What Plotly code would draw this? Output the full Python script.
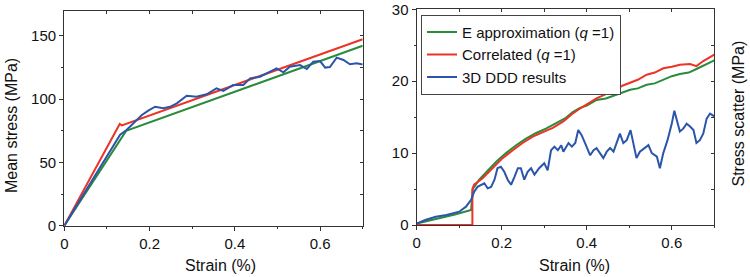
import plotly.graph_objects as go

# ---------------- Left panel: mean stress ----------------
left_e_strain = [0.0, 0.145, 0.70]
left_e_stress = [0.0, 75.0, 142.3]

left_corr_strain = [0.0, 0.130, 0.135, 0.70]
left_corr_stress = [0.0, 80.4, 79.3, 147.4]

left_ddd_strain = [0.0, 0.03, 0.065, 0.10, 0.131, 0.146, 0.162, 0.182, 0.197, 0.213, 0.232,
                   0.248, 0.264, 0.287, 0.31, 0.334, 0.357, 0.373, 0.396, 0.42, 0.436,
                   0.459, 0.483, 0.498, 0.514, 0.529, 0.553, 0.569, 0.584, 0.60, 0.612,
                   0.623, 0.639, 0.655, 0.67, 0.686, 0.70]
left_ddd_stress = [0.0, 16.5, 35.0, 54.0, 72.0, 75.7, 81.0, 87.5, 91.0, 94.1, 92.8,
                   94.0, 96.8, 102.8, 102.0, 103.9, 108.6, 106.5, 111.2, 111.2, 116.5,
                   117.8, 121.8, 124.4, 121.3, 125.7, 127.0, 123.9, 129.7, 130.2, 125.0,
                   125.5, 132.9, 131.0, 127.6, 128.4, 127.5]

# ---------------- Right panel: stress scatter ----------------
right_e_strain = [0.0, 0.03, 0.06, 0.09, 0.128, 0.132, 0.147, 0.163, 0.187, 0.21, 0.234,
                  0.257, 0.281, 0.304, 0.328, 0.351, 0.367, 0.384, 0.40, 0.423, 0.445,
                  0.47, 0.485, 0.502, 0.52, 0.541, 0.56, 0.58, 0.60, 0.619, 0.64,
                  0.658, 0.68, 0.70]
right_e_scatter = [0.2, 0.6, 1.0, 1.45, 2.1, 5.0, 6.3, 7.3, 8.8, 10.0, 11.1,
                   12.0, 12.8, 13.4, 14.2, 14.9, 15.7, 16.3, 16.6, 17.4, 17.6,
                   18.1, 18.4, 18.8, 19.0, 19.5, 19.7, 20.2, 20.7, 21.0, 21.2,
                   21.7, 22.3, 22.9]

right_corr_strain = [0.0, 0.131, 0.131, 0.135, 0.155, 0.179, 0.202, 0.226, 0.249, 0.273,
                     0.296, 0.32, 0.345, 0.365, 0.384, 0.405, 0.423, 0.445, 0.462, 0.485,
                     0.502, 0.52, 0.541, 0.56, 0.58, 0.60, 0.619, 0.643, 0.658, 0.674,
                     0.70]
right_corr_scatter = [0.0, 0.0, 5.0, 5.6, 6.5, 7.9, 9.3, 10.4, 11.4, 12.3,
                      12.9, 13.5, 14.4, 15.4, 16.2, 17.0, 17.6, 18.2, 18.6, 19.4,
                      19.8, 20.2, 20.9, 21.2, 21.8, 22.0, 22.3, 22.4, 22.1, 22.8,
                      23.7]

right_ddd_strain = [0.0, 0.02, 0.045, 0.07, 0.1, 0.116, 0.128, 0.135, 0.143, 0.151, 0.159,
                    0.167, 0.175, 0.183, 0.19, 0.198, 0.206, 0.214, 0.222, 0.23, 0.238,
                    0.245, 0.253, 0.261, 0.269, 0.277, 0.288, 0.30, 0.308, 0.316, 0.324,
                    0.332, 0.34, 0.345, 0.357, 0.365, 0.373, 0.38, 0.388, 0.396, 0.408,
                    0.416, 0.423, 0.431, 0.439, 0.447, 0.455, 0.463, 0.47, 0.478, 0.486,
                    0.494, 0.503, 0.51, 0.517, 0.525, 0.537, 0.545, 0.553, 0.565, 0.572,
                    0.58, 0.59, 0.60, 0.606, 0.611, 0.619, 0.627, 0.635, 0.643, 0.651,
                    0.658, 0.666, 0.674, 0.682, 0.69, 0.70]
right_ddd_scatter = [0.2, 0.7, 1.15, 1.4, 1.85, 2.55, 3.5, 4.6, 5.3, 5.6, 5.8,
                     5.1, 5.3, 6.3, 7.9, 8.1, 7.4, 6.3, 5.6, 6.7, 7.9,
                     7.9, 6.3, 7.4, 7.9, 7.0, 7.9, 8.6, 7.6, 10.4, 10.9,
                     10.4, 11.1, 10.2, 11.4, 10.9, 11.4, 13.2, 12.5, 11.4, 9.7,
                     10.4, 10.7, 10.0, 9.3, 10.2, 10.7, 10.2, 11.4, 12.7, 11.4,
                     11.8, 13.2, 11.4, 9.3, 10.2, 10.7, 11.1, 10.0, 9.5, 7.9,
                     10.0, 11.8, 14.1, 15.9, 14.8, 13.0, 13.4, 14.1, 13.7, 13.2,
                     11.4, 11.8, 12.7, 14.8, 15.5, 15.1]

x_ticks = [0, 0.2, 0.4, 0.6]
x_tick_labels = ["0", "0.2", "0.4", "0.6"]
left_y_ticks = [0, 50, 100, 150]
right_y_ticks = [0, 10, 20, 30]

GREEN = "#2a8b3c"
RED = "#ec3326"
BLUE = "#2b55aa"
AX = "#333333"
FONT = "Liberation Sans, Arial, sans-serif"

fig = go.Figure()

lw = 2
fig.add_trace(go.Scatter(x=left_e_strain, y=left_e_stress, mode="lines",
                         line=dict(color=GREEN, width=lw), showlegend=False,
                         xaxis="x", yaxis="y"))
fig.add_trace(go.Scatter(x=left_corr_strain, y=left_corr_stress, mode="lines",
                         line=dict(color=RED, width=lw), showlegend=False,
                         xaxis="x", yaxis="y"))
fig.add_trace(go.Scatter(x=left_ddd_strain, y=left_ddd_stress, mode="lines",
                         line=dict(color=BLUE, width=lw), showlegend=False,
                         xaxis="x", yaxis="y"))

fig.add_trace(go.Scatter(x=right_e_strain, y=right_e_scatter, mode="lines",
                         line=dict(color=GREEN, width=lw),
                         name="E approximation (<i>q</i> =1)",
                         xaxis="x2", yaxis="y2"))
fig.add_trace(go.Scatter(x=right_corr_strain, y=right_corr_scatter, mode="lines",
                         line=dict(color=RED, width=lw),
                         name="Correlated (<i>q</i> =1)",
                         xaxis="x2", yaxis="y2"))
fig.add_trace(go.Scatter(x=right_ddd_strain, y=right_ddd_scatter, mode="lines",
                         line=dict(color=BLUE, width=lw),
                         name="3D DDD results",
                         xaxis="x2", yaxis="y2"))

# empty traces so that the mirrored (frame) axes are drawn
fig.add_trace(go.Scatter(x=[], y=[], xaxis="x3", yaxis="y3", showlegend=False,
                         hoverinfo="skip"))
fig.add_trace(go.Scatter(x=[], y=[], xaxis="x4", yaxis="y4", showlegend=False,
                         hoverinfo="skip"))

W, H = 750, 277
L_dom_x = [64.3 / W, 362.7 / W]
L_dom_y = [1 - 225.7 / H, 1 - 10.7 / H]
R_dom_x = [416.7 / W, 714.3 / W]
R_dom_y = [1 - 225.0 / H, 1 - 9.3 / H]

tickfont = dict(family=FONT, size=15, color="#111111")


def main_x(domain, anchor):
    return dict(domain=domain, anchor=anchor, range=[0, 0.7], tickvals=x_ticks,
                ticktext=x_tick_labels, ticks="outside", ticklen=4, tickwidth=1.2,
                tickcolor=AX, showline=True, linecolor=AX, linewidth=1.3,
                showgrid=False, zeroline=False, tickfont=tickfont, automargin=False,
                minor=dict(dtick=0.1, tick0=0, ticks="outside", ticklen=2, tickcolor=AX,
                           showgrid=False))


def main_y(domain, anchor, rng, vals, minor):
    return dict(domain=domain, anchor=anchor, range=rng, tickvals=vals,
                ticks="outside", ticklen=4, tickwidth=1.2, tickcolor=AX,
                showline=True, linecolor=AX, linewidth=1.3, showgrid=False,
                zeroline=False, tickfont=tickfont, automargin=False,
                minor=dict(dtick=minor, tick0=0, ticks="outside", ticklen=2,
                           tickcolor=AX, showgrid=False))


def mirror_x(over, anchor, domain):
    return dict(overlaying=over, anchor=anchor, domain=domain, side="top",
                range=[0, 0.7], dtick=0.1, tick0=0, ticks="inside", ticklen=3,
                tickcolor=AX, showline=True, linecolor=AX, linewidth=1.3,
                showticklabels=False, showgrid=False, zeroline=False, automargin=False)


def mirror_y(over, anchor, domain, rng, dt):
    return dict(overlaying=over, anchor=anchor, domain=domain, side="right",
                range=rng, dtick=dt, tick0=0, ticks="inside", ticklen=3,
                tickcolor=AX, showline=True, linecolor=AX, linewidth=1.3,
                showticklabels=False, showgrid=False, zeroline=False, automargin=False)


fig.update_layout(
    template="none",
    width=W, height=H,
    margin=dict(l=0, r=0, t=0, b=0, autoexpand=False),
    paper_bgcolor="white", plot_bgcolor="white",
    font=dict(family=FONT, size=15, color="#111111"),
    xaxis=main_x(L_dom_x, "y"),
    yaxis=main_y(L_dom_y, "x", [0, 170], left_y_ticks, 25),
    xaxis2=main_x(R_dom_x, "y2"),
    yaxis2=main_y(R_dom_y, "x2", [0, 30], right_y_ticks, 5),
    xaxis3=mirror_x("x", "y3", L_dom_x),
    yaxis3=mirror_y("y", "x3", L_dom_y, [0, 170], 25),
    xaxis4=mirror_x("x2", "y4", R_dom_x),
    yaxis4=mirror_y("y2", "x4", R_dom_y, [0, 30], 5),
    showlegend=True,
    legend=dict(x=421 / W, y=1 - 14.7 / H, xanchor="left", yanchor="top",
                bgcolor="white", bordercolor="#444444", borderwidth=1,
                font=dict(family=FONT, size=15, color="#111111"),
                tracegroupgap=0),
)

title_font = dict(family=FONT, size=16, color="#111111")
fig.add_annotation(text="Mean stress (MPa)", x=11 / W, y=1 - 126 / H, xref="paper",
                   yref="paper", showarrow=False, textangle=-90, font=title_font,
                   xanchor="center", yanchor="middle")
fig.add_annotation(text="Strain (%)", x=220 / W, y=1 - 265 / H, xref="paper",
                   yref="paper", showarrow=False, font=title_font,
                   xanchor="center", yanchor="middle")
fig.add_annotation(text="Strain (%)", x=574 / W, y=1 - 265 / H, xref="paper",
                   yref="paper", showarrow=False, font=title_font,
                   xanchor="center", yanchor="middle")
fig.add_annotation(text="Stress scatter (MPa)", x=738 / W, y=1 - 113.5 / H, xref="paper",
                   yref="paper", showarrow=False, textangle=-90, font=title_font,
                   xanchor="center", yanchor="middle")

fig.write_html("out.html", config={"displayModeBar": False},
               post_script="document.body.style.margin='0';document.body.style.padding='0';")
